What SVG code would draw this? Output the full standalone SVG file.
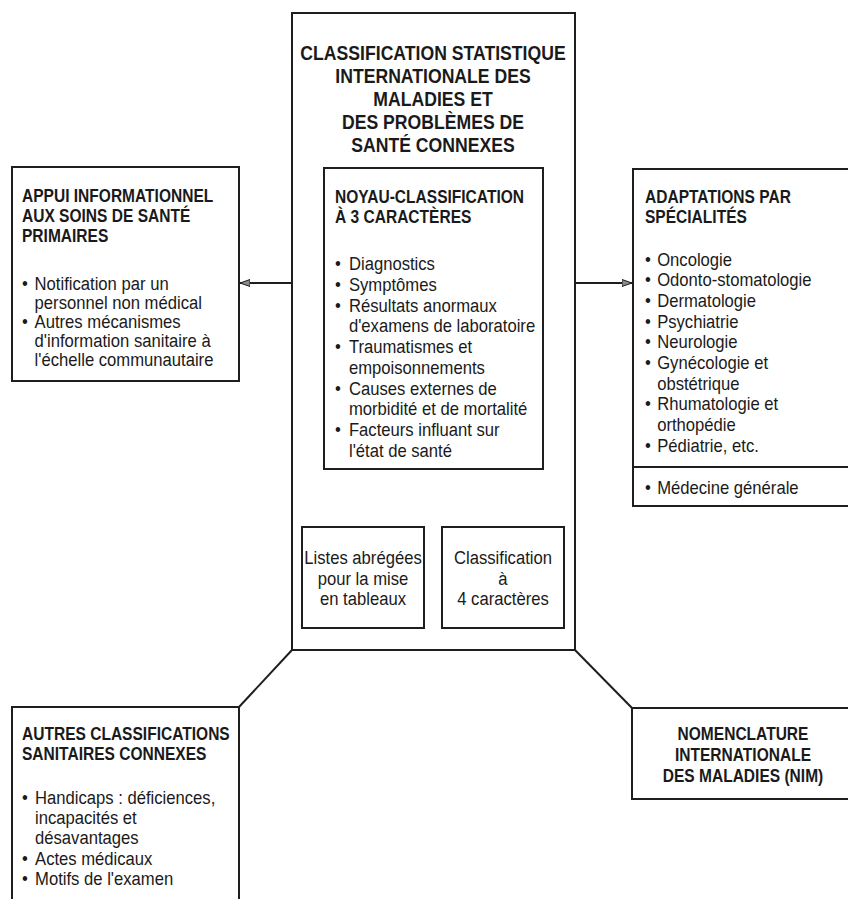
<svg xmlns="http://www.w3.org/2000/svg" width="848" height="899" viewBox="0 0 848 899">
<defs>
<style>
.box{fill:#fff;stroke:#1e1e1e;stroke-width:2}
.ln{fill:none;stroke:#1e1e1e;stroke-width:2}
text{font-family:"Liberation Sans",Arial,sans-serif;fill:#1a1a1a}
.t{font-size:21px;font-weight:bold;text-anchor:middle}
.h{font-size:18.5px;font-weight:bold}
.hc{font-size:18.5px;font-weight:bold;text-anchor:middle}
.b{font-size:18.5px}
.bc{font-size:18.5px;text-anchor:middle}
</style>
<marker id="ah" viewBox="0 0 10 8" refX="10" refY="4" markerWidth="10" markerHeight="8" markerUnits="userSpaceOnUse" orient="auto">
<path d="M0,0.5 L10,4 L0,7.5 Z" fill="#8a8a8a" stroke="#1e1e1e" stroke-width="1"/>
</marker>
</defs>
<rect width="848" height="899" fill="#fff"/>

<g id="connectors">
<line class="ln" x1="292" y1="283" x2="240" y2="283" marker-end="url(#ah)"/>
<line class="ln" x1="575" y1="283" x2="632" y2="283" marker-end="url(#ah)"/>
<line class="ln" x1="357" y1="469" x2="357" y2="526" marker-end="url(#ah)"/>
<line class="ln" x1="509" y1="469" x2="509" y2="526" marker-end="url(#ah)"/>
<line class="ln" x1="292" y1="650" x2="239" y2="707"/>
<line class="ln" x1="575" y1="650" x2="632" y2="708"/>
</g>

<g id="icd">
<rect class="box" x="292" y="13" width="283" height="637" fill="none"/>
<g transform="translate(433 0) scale(0.84 1)">
<text class="t" x="0" y="60">CLASSIFICATION STATISTIQUE</text>
<text class="t" x="0" y="83">INTERNATIONALE DES</text>
<text class="t" x="0" y="106">MALADIES ET</text>
<text class="t" x="0" y="129">DES PROBLÈMES DE</text>
<text class="t" x="0" y="152">SANTÉ CONNEXES</text>
</g>
</g>

<g id="noyau">
<rect class="box" x="324" y="168" width="219" height="301"/>
<g transform="translate(335 0) scale(0.84 1)">
<text class="h" x="0" y="203">NOYAU-CLASSIFICATION</text>
<text class="h" x="0" y="223">À 3 CARACTÈRES</text>
</g>
<g transform="translate(335 0) scale(0.9 1)">
<text class="b" x="0" y="270">•</text><text class="b" x="15.5" y="270">Diagnostics</text>
<text class="b" x="0" y="291">•</text><text class="b" x="15.5" y="291">Symptômes</text>
<text class="b" x="0" y="312">•</text><text class="b" x="15.5" y="312">Résultats anormaux</text>
<text class="b" x="15.5" y="332">d'examens de laboratoire</text>
<text class="b" x="0" y="353">•</text><text class="b" x="15.5" y="353">Traumatismes et</text>
<text class="b" x="15.5" y="374">empoisonnements</text>
<text class="b" x="0" y="395">•</text><text class="b" x="15.5" y="395">Causes externes de</text>
<text class="b" x="15.5" y="415">morbidité et de mortalité</text>
<text class="b" x="0" y="436">•</text><text class="b" x="15.5" y="436">Facteurs influant sur</text>
<text class="b" x="15.5" y="457">l'état de santé</text>
</g>
</g>

<g id="appui">
<rect class="box" x="12" y="167" width="227" height="214"/>
<g transform="translate(22 0) scale(0.84 1)">
<text class="h" x="0" y="202">APPUI INFORMATIONNEL</text>
<text class="h" x="0" y="222">AUX SOINS DE SANTÉ</text>
<text class="h" x="0" y="242">PRIMAIRES</text>
</g>
<g transform="translate(22 0) scale(0.9 1)">
<text class="b" x="0" y="290">•</text><text class="b" x="14" y="290">Notification par un</text>
<text class="b" x="14" y="309">personnel non médical</text>
<text class="b" x="0" y="328">•</text><text class="b" x="14" y="328">Autres mécanismes</text>
<text class="b" x="14" y="347">d'information sanitaire à</text>
<text class="b" x="14" y="366">l'échelle communautaire</text>
</g>
</g>

<g id="adaptations">
<rect class="box" x="633" y="169" width="225" height="337"/>
<line class="ln" x1="633" y1="467" x2="858" y2="467"/>
<g transform="translate(645 0) scale(0.84 1)">
<text class="h" x="0" y="203">ADAPTATIONS PAR</text>
<text class="h" x="0" y="223">SPÉCIALITÉS</text>
</g>
<g transform="translate(645 0) scale(0.9 1)">
<text class="b" x="0" y="266">•</text><text class="b" x="13.5" y="266">Oncologie</text>
<text class="b" x="0" y="286">•</text><text class="b" x="13.5" y="286">Odonto-stomatologie</text>
<text class="b" x="0" y="307">•</text><text class="b" x="13.5" y="307">Dermatologie</text>
<text class="b" x="0" y="328">•</text><text class="b" x="13.5" y="328">Psychiatrie</text>
<text class="b" x="0" y="348">•</text><text class="b" x="13.5" y="348">Neurologie</text>
<text class="b" x="0" y="369">•</text><text class="b" x="13.5" y="369">Gynécologie et</text>
<text class="b" x="13.5" y="390">obstétrique</text>
<text class="b" x="0" y="410">•</text><text class="b" x="13.5" y="410">Rhumatologie et</text>
<text class="b" x="13.5" y="431">orthopédie</text>
<text class="b" x="0" y="452">•</text><text class="b" x="13.5" y="452">Pédiatrie, etc.</text>
<text class="b" x="0" y="494">•</text><text class="b" x="13.5" y="494">Médecine générale</text>
</g>
</g>

<g id="listes">
<rect class="box" x="302" y="527" width="122" height="101"/>
<g transform="translate(363 0) scale(0.9 1)">
<text class="bc" x="0" y="564">Listes abrégées</text>
<text class="bc" x="0" y="585">pour la mise</text>
<text class="bc" x="0" y="605">en tableaux</text>
</g>
</g>

<g id="classif4">
<rect class="box" x="442" y="527" width="122" height="101"/>
<g transform="translate(503 0) scale(0.9 1)">
<text class="bc" x="0" y="564">Classification</text>
<text class="bc" x="0" y="585">à</text>
<text class="bc" x="0" y="605">4 caractères</text>
</g>
</g>

<g id="autres">
<rect class="box" x="12" y="707" width="227" height="210"/>
<g transform="translate(22 0) scale(0.84 1)">
<text class="h" x="0" y="740">AUTRES CLASSIFICATIONS</text>
<text class="h" x="0" y="760">SANITAIRES CONNEXES</text>
</g>
<g transform="translate(22 0) scale(0.9 1)">
<text class="b" x="0" y="804">•</text><text class="b" x="14.5" y="804">Handicaps : déficiences,</text>
<text class="b" x="14.5" y="824">incapacités et</text>
<text class="b" x="14.5" y="844">désavantages</text>
<text class="b" x="0" y="865">•</text><text class="b" x="14.5" y="865">Actes médicaux</text>
<text class="b" x="0" y="885">•</text><text class="b" x="14.5" y="885">Motifs de l'examen</text>
</g>
</g>

<g id="nim">
<rect class="box" x="632" y="708" width="226" height="91"/>
<g transform="translate(743 0) scale(0.84 1)">
<text class="hc" x="0" y="740">NOMENCLATURE</text>
<text class="hc" x="0" y="761">INTERNATIONALE</text>
<text class="hc" x="0" y="782">DES MALADIES (NIM)</text>
</g>
</g>
</svg>
